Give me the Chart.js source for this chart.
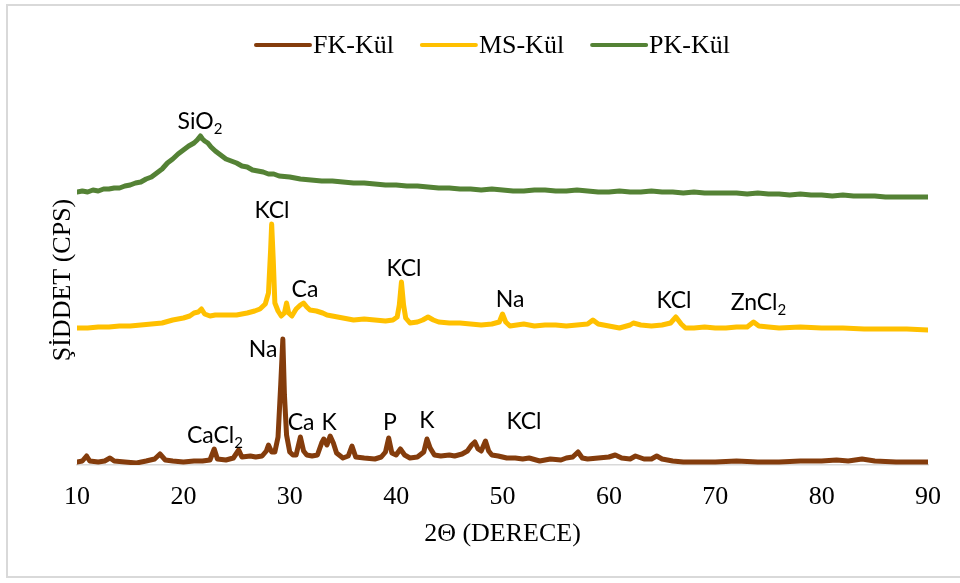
<!DOCTYPE html>
<html lang="tr">
<head>
<meta charset="utf-8">
<title>XRD - FK, MS, PK Kül</title>
<script src="https://cdn.jsdelivr.net/npm/chart.js@4.4.1/dist/chart.umd.min.js"></script>
<style>
  html, body { margin: 0; padding: 0; background: #fff; }
  #wrap { width: 960px; height: 583px; }
</style>
</head>
<body>
<div id="wrap"><canvas id="xrdChart" width="960" height="583"></canvas></div>
<script>
"use strict";

// Seri adları ve renkleri
const seriesNames = ['FK-Kül', 'MS-Kül', 'PK-Kül'];
const seriesColors = ['#843C0C', '#FFC000', '#548235'];

// X ekseni etiketleri (2Θ)
const xTickValues = [10, 20, 30, 40, 50, 60, 70, 80, 90];

// FK-Kül (kahverengi)
const thetaFK = [10, 10.5, 10.9, 11.2, 12, 12.6, 13.1, 13.5, 14.5, 15.6,
    16.5, 17.3, 17.8, 18.3, 19, 20, 21, 21.8, 22.5, 22.9,
    23.2, 24, 24.7, 25.2, 25.5, 26.3, 26.8, 27.4, 27.8, 28.0,
    28.3, 28.6, 28.9, 29.15, 29.35, 29.5, 29.7, 30.0, 30.3, 30.6,
    31.0, 31.3, 31.6, 32.1, 32.6, 33.0, 33.2, 33.5, 33.8, 34.1,
    34.4, 35.0, 35.5, 35.85, 36.2, 37, 38, 38.6, 39.0, 39.3,
    39.6, 40.0, 40.4, 40.8, 41.3, 42, 42.6, 42.9, 43.2, 43.6,
    44.2, 45, 45.5, 46.2, 46.7, 47.1, 47.4, 47.7, 48.0, 48.4,
    48.7, 49.0, 49.6, 50.4, 51.2, 51.9, 52.5, 53.5, 54.5, 55.5,
    56.0, 56.6, 57.1, 57.5, 58, 59, 60, 60.6, 61.2, 62.0,
    62.5, 63.3, 64.0, 64.5, 65.0, 66, 67, 68, 70, 72,
    74, 76, 78, 80, 81.4, 82.5, 83.8, 85, 87, 89,
    90];
const countsFK = [3, 4, 9, 4, 3, 4, 7, 4, 3, 2,
    4, 6, 11, 5, 4, 3, 4, 4, 5, 16,
    6, 5, 7, 15, 8, 9, 8, 9, 14, 20,
    13, 13, 28, 80, 126, 70, 30, 13, 10, 10,
    28, 14, 10, 9, 10, 22, 26, 20, 29, 22,
    12, 7, 9, 19, 8, 7, 6, 8, 13, 27,
    12, 10, 16, 10, 7, 8, 13, 26, 17, 10,
    9, 10, 9, 11, 14, 20, 23, 16, 14, 24,
    14, 10, 9, 7, 7, 6, 7, 4, 6, 5,
    7, 8, 13, 7, 6, 7, 8, 10, 7, 6,
    9, 6, 6, 9, 6, 4, 3, 3, 3, 4,
    3, 3, 4, 4, 5, 4, 6, 4, 3, 3,
    3];

// MS-Kül (sarı)
const thetaMS = [10, 11, 12, 13, 14, 15, 16, 17, 18, 19,
    20, 20.6, 21, 21.4, 21.7, 22, 22.5, 23, 24, 25,
    25.5, 26, 26.7, 27.2, 27.7, 28.0, 28.2, 28.3, 28.45, 28.6,
    28.9, 29.2, 29.5, 29.7, 29.9, 30.2, 30.6, 31.0, 31.3, 31.6,
    31.9, 32.5, 33.1, 33.5, 34, 35, 36, 37, 38, 39,
    39.7, 40.1, 40.3, 40.5, 40.7, 40.9, 41.3, 42, 42.5, 43,
    43.5, 44, 45, 46, 47, 48, 49, 49.7, 50.0, 50.3,
    50.7, 52, 53, 54, 55, 56, 57, 58, 58.5, 59,
    60, 61, 62, 62.3, 63, 64, 65, 65.8, 66.3, 66.8,
    67.2, 68, 69, 70, 71, 72, 73, 73.6, 74.1, 75,
    76, 78, 80, 82, 84, 86, 88, 90];
const countsMS = [137, 137, 138, 138, 139, 139, 140, 141, 142, 145,
    147, 149, 152, 153, 156, 151, 149, 150, 150, 150,
    151, 152, 154, 156, 161, 172, 215, 241, 205, 162,
    154, 149, 152, 162, 152, 149, 156, 160, 162, 158,
    155, 154, 152, 150, 149, 147, 145, 146, 145, 144,
    145, 148, 160, 183, 160, 147, 142, 143, 145, 148,
    145, 143, 142, 142, 141, 140, 141, 143, 151, 143,
    139, 141, 139, 140, 140, 139, 140, 141, 145, 141,
    139, 137, 140, 142, 140, 139, 140, 142, 148, 141,
    137, 137, 138, 137, 137, 138, 138, 143, 139, 138,
    137, 138, 137, 137, 136, 136, 136, 135];

// PK-Kül (yeşil)
const thetaPK = [10, 10.5, 11, 11.5, 12, 12.5, 13, 13.5, 14, 14.5,
    15, 15.5, 16, 16.5, 17, 17.5, 18, 18.5, 19, 19.5,
    20, 20.5, 21, 21.3, 21.6, 21.8, 22, 22.3, 22.6, 23,
    23.5, 24, 24.5, 25, 25.5, 26, 26.5, 27, 27.5, 28,
    28.5, 29, 30, 31, 32, 33, 34, 35, 36, 37,
    38, 39, 40, 41, 42, 43, 44, 45, 46, 47,
    48, 49, 50, 51, 52, 53, 54, 55, 56, 57,
    58, 59, 60, 61, 62, 63, 64, 65, 66, 67,
    68, 69, 70, 71, 72, 73, 74, 75, 76, 77,
    78, 79, 80, 81, 82, 83, 84, 85, 86, 87,
    88, 89, 90];
const countsPK = [273, 274, 273, 275, 274, 276, 276, 277, 277, 279,
    280, 282, 283, 286, 288, 292, 296, 302, 306, 311,
    315, 319, 322, 325, 329, 326, 324, 322, 318, 314,
    310, 306, 304, 302, 299, 298, 295, 294, 293, 291,
    291, 289, 288, 286, 285, 284, 284, 283, 282, 282,
    281, 280, 280, 279, 279, 278, 277, 277, 276, 276,
    275, 276, 275, 274, 274, 275, 275, 274, 274, 275,
    274, 273, 273, 274, 273, 273, 274, 273, 273, 272,
    273, 272, 272, 272, 272, 271, 272, 271, 271, 270,
    271, 270, 270, 269, 270, 269, 269, 269, 268, 268,
    268, 268, 268];

// Pik etiketleri (metin, alt simge, 2Θ konumu, şiddet seviyesi)
const peakText = ['SiO', 'KCl', 'Ca', 'KCl', 'Na', 'KCl', 'ZnCl', 'Na', 'CaCl', 'Ca', 'K', 'P', 'K', 'KCl'];
const peakSub = ['2', '', '', '', '', '', '2', '', '2', '', '', '', '', ''];
const peakTheta = [21.56, 28.33, 31.43, 40.74, 50.71, 66.12, 74.06, 27.49, 22.97, 31.06, 33.69, 39.42, 42.90, 52.02];
const peakLevel = [336, 247, 168, 189, 158, 157, 155, 108, 22, 35, 35, 35, 37, 36];

const serifFont = '"Liberation Serif", "Times New Roman", serif';
const sansFont = 'Lato, "Open Sans", sans-serif';

//Gör om två arrayer till {x, y}-punkter.
function toPoints(xs, ys) {
    return xs.map((x, i) => ({ x: x, y: ys[i] }));
}

//Ritar ut etiketterna ovanför topparna.
const peakLabelPlugin = {
    id: 'peakLabels',
    afterDatasetsDraw(chart) {
        const { ctx, scales } = chart;
        ctx.save();
        ctx.fillStyle = '#000';
        ctx.textAlign = 'left';
        ctx.textBaseline = 'alphabetic';
        peakText.forEach((txt, i) => {
            ctx.font = '23px ' + sansFont;
            const w1 = ctx.measureText(txt).width;
            ctx.font = '15px ' + sansFont;
            const w2 = peakSub[i] ? ctx.measureText(peakSub[i]).width : 0;
            const left = scales.x.getPixelForValue(peakTheta[i]) - (w1 + w2) / 2;
            const base = scales.y.getPixelForValue(peakLevel[i]);
            ctx.font = '23px ' + sansFont;
            ctx.fillText(txt, left, base);
            if (peakSub[i]) {
                ctx.font = '15px ' + sansFont;
                ctx.fillText(peakSub[i], left + w1, base + 5);
            }
        });
        ctx.restore();
    }
};

//Legend, y-axelns titel och ram.
const framePlugin = {
    id: 'frameAndLegend',
    afterDraw(chart) {
        const ctx = chart.ctx;
        ctx.save();

        ctx.strokeStyle = '#d9d9d9';
        ctx.lineWidth = 2;
        ctx.strokeRect(7, 5, 960, 572);

        ctx.font = '26px ' + serifFont;
        const lineLen = 54, gap = 3, spacing = 28;
        const items = chart.data.datasets.map(ds => ({
            label: ds.label,
            color: ds.borderColor,
            w: ctx.measureText(ds.label).width
        }));
        const total = items.reduce((s, it) => s + lineLen + gap + it.w, 0) + spacing * (items.length - 1);
        let x = 493 - total / 2;
        const y = 45;
        items.forEach(it => {
            ctx.strokeStyle = it.color;
            ctx.lineWidth = 4;
            ctx.lineCap = 'round';
            ctx.beginPath();
            ctx.moveTo(x, y);
            ctx.lineTo(x + lineLen, y);
            ctx.stroke();
            ctx.fillStyle = '#000';
            ctx.textAlign = 'left';
            ctx.textBaseline = 'alphabetic';
            ctx.fillText(it.label, x + lineLen + gap, 53);
            x += lineLen + gap + it.w + spacing;
        });

        ctx.translate(70, 280);
        ctx.rotate(-Math.PI / 2);
        ctx.textAlign = 'center';
        ctx.fillText('ŞİDDET (CPS)', 0, 0);
        ctx.restore();
    }
};

function createXrdChart() {
    const datasets = [
        toPoints(thetaFK, countsFK),
        toPoints(thetaMS, countsMS),
        toPoints(thetaPK, countsPK)
    ].map((points, i) => ({
        label: seriesNames[i],
        data: points,
        borderColor: seriesColors[i],
        backgroundColor: seriesColors[i],
        borderWidth: 5,
        borderJoinStyle: 'round',
        borderCapStyle: 'round',
        pointRadius: 0,
        tension: 0,
        fill: false
    }));

    new Chart(document.getElementById('xrdChart'), {
        type: 'line',
        data: { datasets: datasets },
        options: {
            responsive: false,
            animation: false,
            layout: { padding: { top: 65, right: 32, bottom: 0, left: 77 } },
            plugins: {
                legend: { display: false },
                tooltip: { enabled: false }
            },
            scales: {
                x: {
                    type: 'linear',
                    min: 10,
                    max: 90,
                    afterBuildTicks: scale => {
                        scale.ticks = xTickValues.map(v => ({ value: v }));
                    },
                    afterFit: scale => { scale.height = 118; },
                    grid: { display: false, drawTicks: false },
                    border: { display: true, color: '#d9d9d9', width: 1.5 },
                    ticks: {
                        padding: 17,
                        color: '#000',
                        font: { family: serifFont, size: 26 },
                        maxRotation: 0
                    },
                    title: {
                        display: true,
                        text: '2Θ (DERECE)',
                        color: '#000',
                        font: { family: serifFont, size: 26 },
                        padding: { top: 0, bottom: 33 }
                    }
                },
                y: {
                    display: false,
                    min: 0,
                    max: 400
                }
            }
        },
        plugins: [peakLabelPlugin, framePlugin]
    });
}

createXrdChart();
</script>
</body>
</html>
